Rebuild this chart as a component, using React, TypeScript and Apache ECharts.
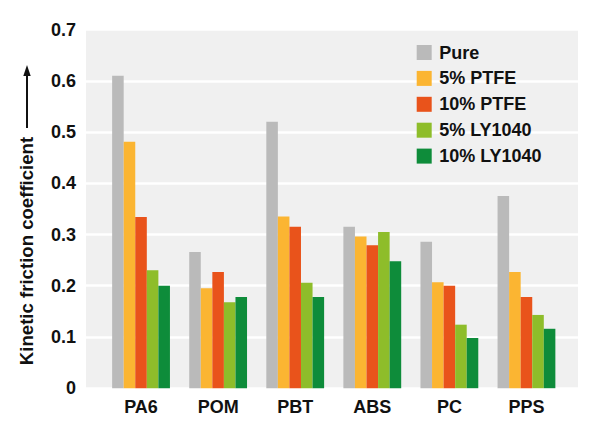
import React, { useEffect, useRef } from "react";
import * as echarts from "echarts";

const categories = ["PA6", "POM", "PBT", "ABS", "PC", "PPS"];
const seriesNames = ["Pure", "5% PTFE", "10% PTFE", "5% LY1040", "10% LY1040"];
const pure = [0.61, 0.266, 0.52, 0.315, 0.286, 0.375];
const ptfe5 = [0.481, 0.195, 0.335, 0.296, 0.207, 0.227];
const ptfe10 = [0.334, 0.227, 0.315, 0.279, 0.2, 0.178];
const ly5 = [0.23, 0.168, 0.206, 0.305, 0.124, 0.143];
const ly10 = [0.2, 0.178, 0.178, 0.248, 0.098, 0.116];
const colors = ["#bababa", "#fbb532", "#e9531b", "#8ebd2a", "#0e8c3a"];
const yTicks = [0, 0.1, 0.2, 0.3, 0.4, 0.5, 0.6, 0.7];

const FONT = "'Liberation Sans', Arial, Helvetica, sans-serif";

export default function App() {
  const ref = useRef<HTMLDivElement>(null);
  useEffect(() => {
    if (!ref.current) return;
    const chart = echarts.init(ref.current, undefined, { renderer: "svg" });
    const values = [pure, ptfe5, ptfe10, ly5, ly10];
    const yMax = yTicks[yTicks.length - 1];
    chart.setOption({
      animation: false,
      backgroundColor: "#ffffff",
      textStyle: { fontFamily: FONT },
      grid: [
        { left: 102.5, right: 35, top: 29.6, bottom: 44.8 },
        {
          left: 86,
          right: 22,
          top: 29.6,
          bottom: 44.8,
          show: true,
          backgroundColor: "#f0f0f0",
          borderWidth: 0,
        },
      ],
      legend: {
        orient: "vertical",
        left: 416.7,
        top: 43.5,
        padding: 0,
        itemWidth: 15,
        itemHeight: 15,
        itemGap: 7.9,
        icon: "rect",
        textStyle: {
          fontFamily: FONT,
          fontSize: 18,
          fontWeight: "bold",
          color: "#111",
          padding: [0, 0, 0, 2.5],
        },
        data: seriesNames,
      },
      xAxis: [
        {
          type: "category",
          gridIndex: 0,
          data: categories,
          axisLine: { show: false },
          axisTick: { show: false },
          axisLabel: {
            margin: 10,
            fontFamily: FONT,
            fontSize: 18,
            fontWeight: "bold",
            color: "#111",
          },
        },
        { type: "value", gridIndex: 1, min: 0, max: 1, show: false },
      ],
      yAxis: [
        { type: "value", gridIndex: 0, min: 0, max: yMax, interval: 0.1, show: false },
        {
          type: "value",
          gridIndex: 1,
          min: 0,
          max: yMax,
          interval: 0.1,
          axisLine: { show: false },
          axisTick: { show: false },
          splitLine: { show: true, lineStyle: { color: "#ffffff", width: 2.5 } },
          axisLabel: {
            margin: 10,
            fontFamily: FONT,
            fontSize: 18,
            fontWeight: "bold",
            color: "#111",
          },
        },
      ],
      series: seriesNames.map((name, i) => ({
        name,
        type: "bar",
        xAxisIndex: 0,
        yAxisIndex: 0,
        data: values[i],
        barGap: "0%",
        barCategoryGap: "25%",
        itemStyle: { color: colors[i] },
      })),
      graphic: [
        {
          type: "text",
          x: 26,
          y: 251,
          rotation: Math.PI / 2,
          style: {
            text: "Kinetic friction coefficient",
            font: `bold 18.6px ${FONT}`,
            fill: "#111",
            align: "center",
            verticalAlign: "middle",
          },
        },
        {
          type: "line",
          shape: { x1: 27, y1: 128, x2: 27, y2: 74 },
          style: { stroke: "#111", lineWidth: 2 },
        },
        {
          type: "polygon",
          shape: { points: [[27, 65], [23.3, 76], [30.7, 76]] },
          style: { fill: "#111" },
        },
      ],
    });
    return () => chart.dispose();
  }, []);
  return <div ref={ref} style={{ width: 600, height: 433, position: "absolute", left: 0, top: 0 }} />;
}
